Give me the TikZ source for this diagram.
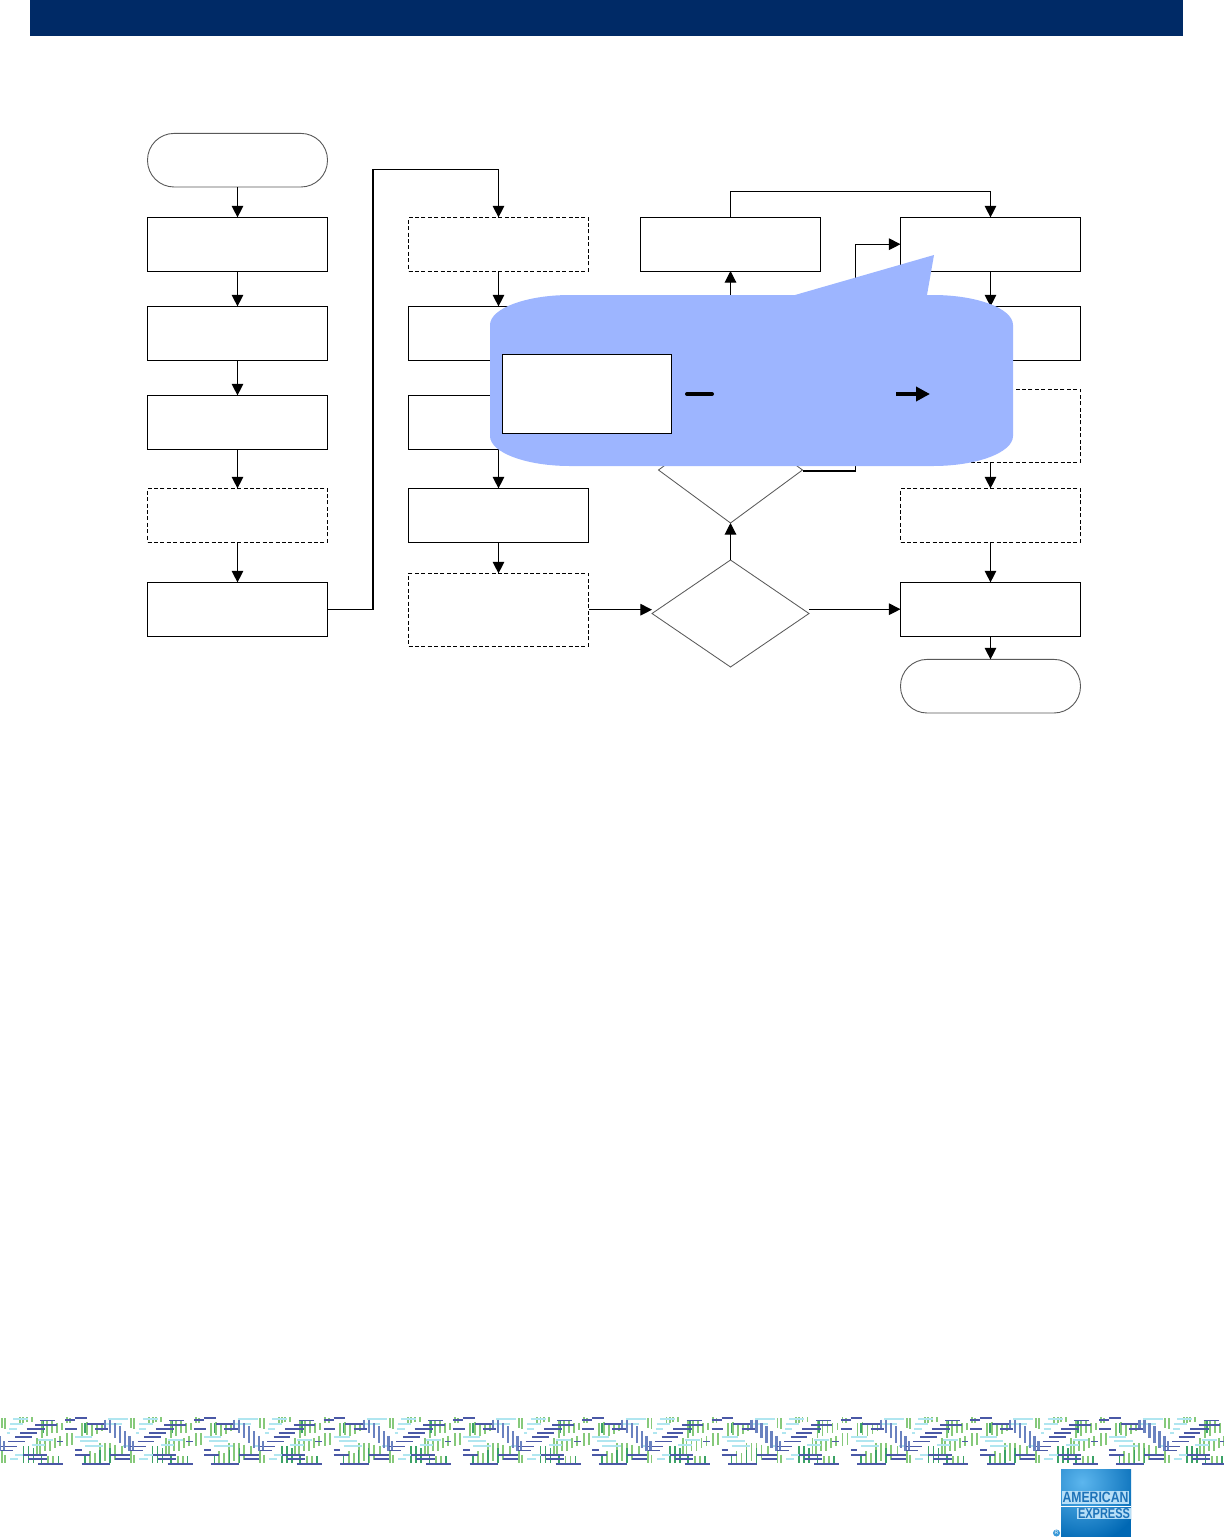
\documentclass[tikz,border=0pt]{standalone}
\usepackage{fontspec}
\usepackage{graphicx}
\setmainfont{Liberation Sans}
\usetikzlibrary{arrows.meta,shapes.geometric}
\definecolor{hdr}{HTML}{002A66}
\definecolor{callout}{HTML}{9DB5FF}
\definecolor{grA}{HTML}{86C97A}
\definecolor{grB}{HTML}{3BA266}
\definecolor{cyA}{HTML}{B0E6F0}
\definecolor{nvA}{HTML}{4A58A6}
\definecolor{blA}{HTML}{6A82C0}
\definecolor{lgA}{HTML}{5CB6EE}
\definecolor{lgB}{HTML}{0068B4}
\definecolor{lgT}{HTML}{1C72B8}
\tikzset{
  x=0.5pt,y=-0.5pt,
  flowbox/.style={draw=black,fill=white,line width=.48pt,minimum width=90pt,minimum height=26.8pt,inner sep=0pt,outer sep=0pt},
  dashbox/.style={flowbox,dash pattern=on 2pt off 1.2pt},
  termbox/.style={flowbox,draw=black!65,line width=.45pt,rounded corners=13.3pt},
  flowarrow/.style={draw=black,line width=.55pt,-{Triangle[length=5.8pt,width=5.8pt]}},
  diamondbox/.style={draw=black!65,line width=.42pt,fill=white,line join=miter},
  hg/.style={grA,line width=.95pt},
  hgd/.style={grB,line width=.8pt},
  hc/.style={cyA,line width=.95pt},
  hn/.style={nvA,line width=.85pt},
  hb/.style={blA,line width=1.1pt},
}
% one half of the strip's repeat; coordinates follow a 3x crop
\newcommand{\hv}[4]{\draw[#1] (#2/3,1413+#3/3) -- (#2/3,1413+#4/3);}
\newcommand{\hh}[4]{\draw[#1] (#2/3,1413+#4/3) -- (#3/3,1413+#4/3);}
\newcommand{\amxtileA}{%
  \foreach \a/\b/\c in {5/15/45,15/15/48,60/12/30,70/12/30,80/12/28,95/12/26,
    125/25/75,140/25/70,155/25/60,170/30/60,185/30/50,110/75/125,
    120/85/125,135/85/115,150/80/115,165/75/105,180/70/100,5/115/150,15/125/150,
    145/130/155,160/130/155}{\hv{hg}{\a}{\b}{\c}}
  \foreach \a/\b/\c in {70/100/150,85/100/150,100/105/150,125/130/155,175/130/155,130/25/60}{\hv{hgd}{\a}{\b}{\c}}
  \foreach \a/\b/\c in {40/85/18,30/70/32,28/50/47,115/160/82,95/135/97,45/70/125,30/55/138,20/30/60}{\hh{hc}{\a}{\b}{\c}}
  \foreach \a/\b/\c in {120/165/22,105/170/35,80/135/47,60/110/60,45/95/72,25/75/85,0/50/100,0/40/112,70/140/125,85/140/138,115/190/153,170/190/85}{\hh{hn}{\a}{\b}{\c}}
  \foreach \a/\b/\c in {0/70/115,12/85/110}{\hv{hb}{\a}{\b}{\c}}
}
\newcommand{\amxtileB}{%
  \foreach \a/\b/\c in {5/12/30,15/15/30,50/30/70,65/28/65,80/30/70,95/30/62,110/35/55,5/60/100,20/60/95,
    105/90/150,120/90/145,135/90/150,150/95/140,170/100/130,75/115/150,90/120/150}{\hv{hg}{\a}{\b}{\c}}
  \foreach \a/\b/\c in {60/30/60,105/110/150,135/105/150,60/130/153}{\hv{hgd}{\a}{\b}{\c}}
  \foreach \a/\b/\c in {130/190/18,110/170/32,30/80/72,45/100/85,60/115/100,175/198/100}{\hh{hc}{\a}{\b}{\c}}
  \foreach \a/\b/\c in {30/65/15,65/120/32,0/35/48,30/50/110,30/75/125,50/135/153,135/198/125,150/198/138,0/30/20,90/130/48}{\hh{hn}{\a}{\b}{\c}}
  \foreach \a/\b/\c in {120/20/45,135/20/60,150/30/75,165/40/90,180/55/105,195/70/115}{\hv{hb}{\a}{\b}{\c}}
}
\begin{document}
\begin{tikzpicture}
\useasboundingbox (0,0) rectangle (1224,1537);
\fill[hdr] (30,0) rectangle (1183,36);

% column 1
\node[termbox] (start) at (237.5,160.2) {};
\node[flowbox] (a1) at (237.5,244.2) {};
\node[flowbox] (a2) at (237.5,333.2) {};
\node[flowbox] (a3) at (237.5,422.2) {};
\node[dashbox] (a4) at (237.5,515.2) {};
\node[flowbox] (a5) at (237.5,609.2) {};
% column 2
\node[dashbox] (b1) at (498.5,244.2) {};
\node[flowbox] (b2) at (498.5,333.2) {};
\node[flowbox] (b3) at (498.5,422.2) {};
\node[flowbox] (b4) at (498.5,515.2) {};
\node[dashbox,minimum height=36.3pt] (b5) at (498.5,609.7) {};
% column 3
\node[flowbox] (c1) at (730.5,244.2) {};
\draw[diamondbox] (730.5,417) coordinate (upT) -- (802.5,470) coordinate (upR) -- (730.5,523) coordinate (upB) -- (658.5,470) coordinate (upL) -- cycle;
\node[draw=none,minimum width=78.5pt,minimum height=53.5pt,inner sep=0pt,outer sep=0pt] (dec) at (730.5,613.5) {};
\draw[diamondbox] (dec.north) -- (dec.east) -- (dec.south) -- (dec.west) -- cycle;
% column 4
\node[flowbox] (d1) at (990.5,244.2) {};
\node[flowbox] (d2) at (990.5,333.2) {};
\node[dashbox,minimum height=36.3pt] (d3) at (990.5,425.7) {};
\node[dashbox] (d4) at (990.5,515.2) {};
\node[flowbox] (d5) at (990.5,609.2) {};
\node[termbox] (stop) at (990.5,686.2) {};

% connectors
\draw[flowarrow] (start) -- (a1);
\draw[flowarrow] (a1) -- (a2);
\draw[flowarrow] (a2) -- (a3);
\draw[flowarrow] (a3) -- (a4);
\draw[flowarrow] (a4) -- (a5);
\coordinate (r1) at (373,609.2);
\coordinate (r2) at (373,169.5);
\draw[flowarrow] (a5.east) -- (r1) -- (r2) -| (b1.north);
\draw[flowarrow] (b1) -- (b2);
\draw[flowarrow] (b2) -- (b3);
\draw[flowarrow] (b3) -- (b4);
\draw[flowarrow] (b4) -- (b5);
\draw[flowarrow] (b5.east) -- (b5.east -| dec.west);
\draw[flowarrow] (dec.east |- d5.west) -- (d5.west);
\draw[flowarrow] (dec.north) -- (upB);
\draw[flowarrow] (upT) -- (c1.south);
\coordinate (t1) at (730.5,191.5);
\draw[flowarrow] (c1.north) -- (t1) -| (d1.north);
\coordinate (u1) at (855.5,471);
\draw[flowarrow] (upR |- u1) -- (u1) |- (d1.west);
\draw[flowarrow] (d1) -- (d2);
\draw[flowarrow] (d2) -- (d3);
\draw[flowarrow] (d3) -- (d4);
\draw[flowarrow] (d4) -- (d5);
\draw[flowarrow] (d5) -- (stop);

% callout
\fill[callout] (490,325) .. controls (490,308.5) and (526,295) .. (570,295)
  -- (795,295) -- (934,255) -- (927,295) -- (933,295)
  .. controls (977,295) and (1013,308.5) .. (1013,325)
  -- (1013,436) .. controls (1013,452.5) and (977,466) .. (933,466)
  -- (570,466) .. controls (526,466) and (490,452.5) .. (490,436) -- cycle;
\node[flowbox,minimum width=84.7pt,minimum height=39.7pt] (note) at (586.8,394) {};
\coordinate (m1) at (687,394);
\coordinate (m2) at (712,394);
\draw[black,line width=2pt,line cap=round] (m1) -- (m2);
\coordinate (m3) at (896,394);
\coordinate (m4) at (930,394);
\draw[black,line width=2pt,-{Triangle[length=7pt,width=7pt,sep=0pt]}] (m3) -- (m4);

% patterned strip
\begin{scope}
\clip (0,1415) rectangle (1224,1466);
\foreach \i in {0,...,9}{
  \begin{scope}[xshift=\i*64.65pt]\amxtileA\end{scope}
  \begin{scope}[xshift=\i*64.65pt+32.5pt]\amxtileB\end{scope}
}
\end{scope}

% logo
\begin{scope}
\clip (1061,1469) rectangle (1131,1537);
\fill[lgB] (1061,1469) rectangle (1131,1537);
\shade[inner color=lgA,outer color=lgB] (1082,1482) circle (62);
\fill[white] (1061,1505.5) rectangle (1131,1506.5);
\fill[white!55!lgA] (1062,1491) rectangle (1129,1503.5);
\fill[white!55!lgA] (1077,1507.5) rectangle (1131,1519);
\node[text=lgT,inner sep=0pt] (amer) at (1095.5,1497.3) {\resizebox{33pt}{5.2pt}{\textbf{AMERICAN}}};
\node[text=lgT,inner sep=0pt] (expr) at (1104,1513.3) {\resizebox{26pt}{5pt}{\textbf{EXPRESS}}};
\end{scope}
\fill[lgA!60!lgB] (1056.5,1533) circle (3.5);
\node[text=white,inner sep=0pt,font=\fontsize{2.6pt}{3pt}\selectfont] (reg) at (1056.5,1533) {R};
\end{tikzpicture}
\end{document}
